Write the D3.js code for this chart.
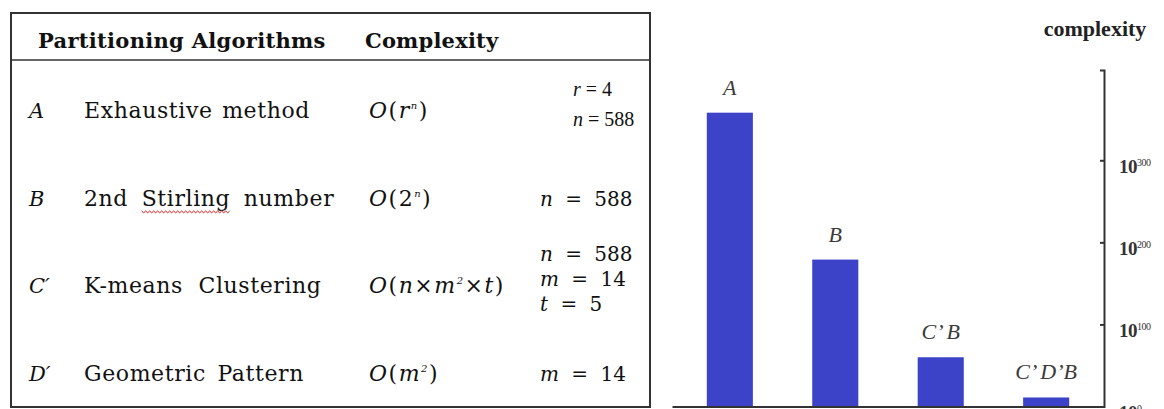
<html>
  <head>
    <script src="https://cdn.jsdelivr.net/npm/d3@7/dist/d3.min.js" charset="UTF-8"></script>
    <style type="text/css">
    body { margin: 0; background: #fff; }
    text.tbl { font-family: "DejaVu Serif", serif; fill: #111; }
    text.head { font-weight: bold; font-size: 21px; }
    text.chart { font-family: "Liberation Serif", serif; }
    .axis path, .axis line { stroke: #333; stroke-width: 2; }
    </style>
  </head>
  <body>
    <script type="text/javascript">

      var width = 1164;
      var height = 409;

      /* table content */
      var headers = ["Partitioning Algorithms", "Complexity"];
      var algoLetters = ["A", "B", "C\u2032", "D\u2032"];
      var algoNames = ["Exhaustive method", "2nd Stirling number", "K-means Clustering", "Geometric Pattern"];
      var complexities = ["O(r^{n})", "O(2^{n})", "O(n\u00d7m^{2}\u00d7t)", "O(m^{2})"];
      var params = [["r = 4", "n = 588"], ["n = 588"], ["n = 588", "m = 14", "t = 5"], ["m = 14"]];

      /* bar chart content: exponent of 10 */
      var barLabels = ["A", "B", "C\u2019 B", "C\u2019 D\u2019B"];
      var barExponents = [358, 179, 60, 11];
      var tickExponents = [0, 100, 200, 300];

      var svg = d3.select("body").append("svg")
        .attr("width", width)
        .attr("height", height);

      /* ---------- table ---------- */
      var tl = 11, tt = 13, tr = 650, tb = 407;

      svg.append("rect")
        .attr("x", tl).attr("y", tt)
        .attr("width", tr - tl).attr("height", tb - tt)
        .attr("fill", "none")
        .attr("stroke", "#333")
        .attr("stroke-width", 2);

      svg.append("line")
        .attr("x1", tl).attr("x2", tr)
        .attr("y1", 60).attr("y2", 60)
        .attr("stroke", "#333")
        .attr("stroke-width", 1.5);

      var headX = [38, 365];
      svg.selectAll("text.head")
        .data(headers)
        .enter()
        .append("text")
        .attr("class", "tbl head")
        .attr("x", function(d, i) { return headX[i]; })
        .attr("y", 48)
        .attr("letter-spacing", function(d, i) { return i == 0 ? 0.3 : 0.2; })
        .text(function(d) { return d; });

      var rowY = d3.scalePoint()
        .domain(d3.range(algoNames.length))
        .range([118, 381]);

      svg.selectAll("text.letter")
        .data(algoLetters)
        .enter()
        .append("text")
        .attr("class", "tbl letter")
        .attr("x", 29)
        .attr("y", function(d, i) { return rowY(i); })
        .attr("font-size", 21)
        .attr("font-style", "italic")
        .text(function(d) { return d; });

      var nameSpacing = [2, 6, 8, 4];
      var names = svg.selectAll("text.name")
        .data(algoNames)
        .enter()
        .append("text")
        .attr("class", "tbl name")
        .attr("x", 84)
        .attr("y", function(d, i) { return rowY(i); })
        .attr("font-size", 22)
        .attr("letter-spacing", 0.6)
        .attr("word-spacing", function(d, i) { return nameSpacing[i]; })
        .text(function(d) { return d; });

      /* spell-check squiggle under "Stirling" */
      names.each(function(d, i) {
        var k = d.indexOf("Stirling");
        if (k < 0) return;
        var x0 = 84 + this.getSubStringLength(0, k);
        var x1 = x0 + this.getSubStringLength(k, 8);
        var yy = rowY(i) + 6, pts = [];
        for (var xx = x0, j = 0; xx <= x1; xx += 2, j++) pts.push([xx, yy + (j % 2 ? 1.5 : -1)]);
        svg.append("path")
          .attr("d", d3.line()(pts))
          .attr("fill", "none")
          .attr("stroke", "#e03a3a")
          .attr("stroke-width", 1);
      });

      /* complexity formulas: letters italic, ^{..} superscript */
      svg.selectAll("text.cplx")
        .data(complexities)
        .enter()
        .append("text")
        .attr("class", "tbl cplx")
        .attr("x", 369)
        .attr("y", function(d, i) { return rowY(i); })
        .attr("font-size", 22)
        .attr("letter-spacing", 1.5)
        .each(function(d) {
          var t = d3.select(this), up = false;
          d.match(/\^\{[^}]*\}|./g).forEach(function(tok) {
            var s = t.append("tspan");
            if (tok[0] == "^") {
              s.attr("dy", -9).attr("font-size", 10).attr("font-style", "italic")
                .text(tok.slice(2, -1));
              up = true;
            } else {
              if (up) { s.attr("dy", 9); up = false; }
              s.attr("font-style", /[a-zA-Z]/.test(tok) ? "italic" : "normal")
                .text(tok);
            }
          });
        });

      /* parameter values */
      var paramX = [573, 540, 540, 540];
      var paramGap = [30, 0, 25, 0];
      svg.selectAll("g.params")
        .data(params)
        .enter()
        .append("g")
        .attr("class", "params")
        .each(function(rows, i) {
          var k = rows.length;
          var first = rowY(i) - (k > 1 ? 7 + (k - 1) * paramGap[i] / 2 : 0);
          rows.forEach(function(r, j) {
            var p = r.split(" = ");
            var t = d3.select(this).append("text")
              .attr("class", "tbl")
              .attr("x", paramX[i])
              .attr("y", first + j * paramGap[i])
              .attr("font-size", i == 0 ? 20 : 20)
              .attr("word-spacing", i == 0 ? 0 : 6);
            if (i == 0) t.style("font-family", "Liberation Serif, serif");
            t.append("tspan").attr("font-style", "italic").text(p[0]);
            t.append("tspan").text(" = " + p[1]);
          }, this);
        });

      /* ---------- bar chart ---------- */
      var x = d3.scaleBand()
        .domain(barLabels)
        .range([672, 1104])
        .paddingInner(0.563)
        .paddingOuter(0.33);

      var y = d3.scaleLinear()
        .domain([0, 410])
        .range([406.5, 70]);

      svg.selectAll("rect.bar")
        .data(barExponents)
        .enter()
        .append("rect")
        .attr("class", "bar")
        .attr("x", function(d, i) { return x(barLabels[i]); })
        .attr("y", function(d) { return y(d); })
        .attr("width", x.bandwidth())
        .attr("height", function(d) { return y(0) - y(d); })
        .attr("fill", "#3c43c8");

      svg.selectAll("text.barlabel")
        .data(barExponents)
        .enter()
        .append("text")
        .attr("class", "chart barlabel")
        .attr("x", function(d, i) { return x(barLabels[i]) + x.bandwidth() / 2; })
        .attr("y", function(d) { return y(d) - 18; })
        .attr("text-anchor", "middle")
        .attr("font-size", 22)
        .attr("font-style", "italic")
        .attr("fill", "#3a3a3a")
        .text(function(d, i) { return barLabels[i]; });

      /* x axis: plain baseline */
      var xg = svg.append("g")
        .attr("class", "axis")
        .attr("transform", "translate(0," + y(0) + ")")
        .call(d3.axisBottom(x).tickSize(0).tickSizeOuter(0).tickFormat(""));
      xg.select(".domain").attr("stroke", "#555");

      /* y axis on the right, ticks pointing inward */
      var yg = svg.append("g")
        .attr("class", "axis")
        .attr("transform", "translate(1104,0)")
        .call(d3.axisRight(y)
          .tickValues(tickExponents)
          .tickSize(-4)
          .tickSizeOuter(-4)
          .tickPadding(15));

      yg.selectAll(".tick text")
        .attr("dy", 12)
        .attr("font-family", "Liberation Serif, serif")
        .attr("font-weight", "bold")
        .attr("font-size", 19)
        .attr("fill", "#333")
        .attr("letter-spacing", -0.5)
        .text("10")
        .append("tspan")
        .attr("dy", -7)
        .attr("font-size", 10)
        .attr("font-weight", "normal")
        .text(function(d) { return d; });

      svg.append("text")
        .attr("class", "chart")
        .attr("x", 1095)
        .attr("y", 36)
        .attr("text-anchor", "middle")
        .attr("font-size", 22)
        .attr("font-weight", "bold")
        .attr("fill", "#222")
        .text("complexity");

    </script>
  </body>
</html>
